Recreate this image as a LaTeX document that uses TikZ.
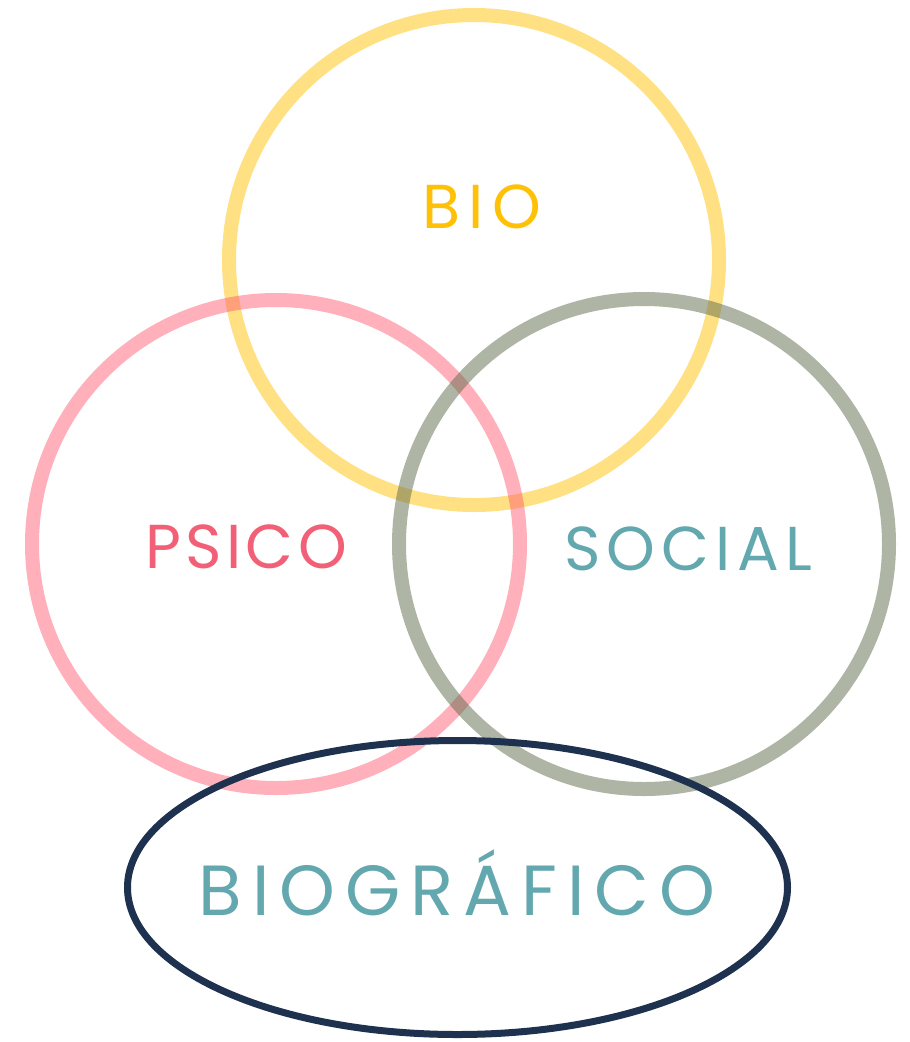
\documentclass[tikz,border=0pt]{standalone}
\usepackage{fontspec}
\setmainfont{Poppins}
\definecolor{cyel}{HTML}{FFC107}
\definecolor{cpink}{HTML}{FF6175}
\definecolor{cgray}{HTML}{5D6B4B}
\definecolor{navy}{HTML}{1E3250}
\definecolor{tyel}{HTML}{FFC107}
\definecolor{tpink}{HTML}{F26077}
\definecolor{tteal}{HTML}{62A8AE}
\begin{document}
\begin{tikzpicture}[x=1pt,y=-1pt,
  ring/.style={line width=14pt,draw opacity=0.5},
  lbl/.style={inner sep=0pt,anchor=base}]
\useasboundingbox (0,0) rectangle (910,1042);
\draw[ring,cyel] (474,260) circle[radius=245];
\draw[ring,cpink] (276,544) circle[radius=244];
\draw[ring,cgray] (644,544) circle[radius=245];
\draw[navy,line width=7pt] (457.5,887.5) ellipse[x radius=330,y radius=147];
\node[lbl,text=tyel,font=\fontsize{62}{64}\selectfont\addfontfeature{LetterSpace=14}] (bio) at (482,228) {BIO};
\node[lbl,text=tpink,font=\fontsize{62}{64}\selectfont\addfontfeature{LetterSpace=7}] (psico) at (246,568) {PSICO};
\node[lbl,text=tteal,font=\fontsize{62}{64}\selectfont\addfontfeature{LetterSpace=10}] (social) at (688,570) {SOCIAL};
\node[lbl,text=tteal,font=\fontsize{71}{73}\selectfont\addfontfeature{LetterSpace=14}] (biog) at (457,915) {BIOGRÁFICO};
\end{tikzpicture}
\end{document}
